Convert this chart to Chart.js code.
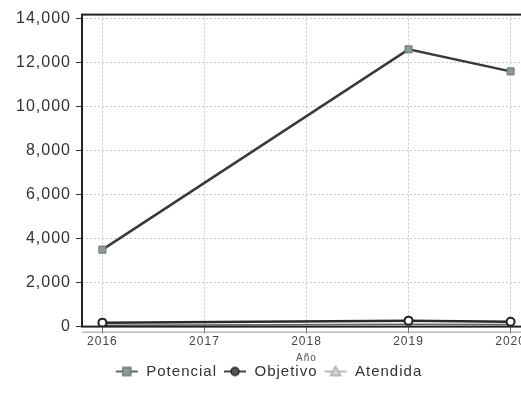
<!DOCTYPE html>
<html>
<head>
<meta charset="utf-8">
<script src="https://cdn.jsdelivr.net/npm/chart.js@4/dist/chart.umd.min.js"></script>
<style>
  html, body { margin: 0; padding: 0; background: #fff; overflow: hidden; }
  #wrap { width: 545px; height: 406px; }
</style>
</head>
<body>
<div id="wrap"><canvas id="mycanvas" width="545" height="406"></canvas></div>
<script>
var years = [2016, 2019, 2020];
var potencial = [3500, 12600, 11600];
var objetivo = [180, 270, 220];
var atendida = [60, 110, 90];
var yTicks = [0, 2000, 4000, 6000, 8000, 10000, 12000, 14000];
var xTicks = [2016, 2017, 2018, 2019, 2020];

function toPoints(vals) {
  var pts = [];
  for (var i in vals) {
    pts.push({ x: years[i], y: vals[i] });
  }
  return pts;
}

// little legend icon: short line with the marker in the middle (6px blank on the left as gap)
function legendIcon(lineColor, fill, stroke, shape) {
  var c = document.createElement('canvas');
  c.width = 30; c.height = 14;
  var g = c.getContext('2d');
  g.strokeStyle = lineColor;
  g.lineWidth = 2;
  g.beginPath(); g.moveTo(7, 7); g.lineTo(29, 7); g.stroke();
  g.fillStyle = fill;
  g.strokeStyle = stroke;
  g.lineWidth = 1.5;
  g.beginPath();
  if (shape == 'rect') {
    g.rect(14, 3, 8, 8);
  } else if (shape == 'circle') {
    g.arc(18, 7, 4, 0, Math.PI * 2);
  } else {
    g.moveTo(18, 2); g.lineTo(23, 11); g.lineTo(13, 11); g.closePath();
  }
  g.fill(); g.stroke();
  return c;
}

var icons = [
  legendIcon('#666', '#8a9a94', '#6d7a75', 'rect'),
  legendIcon('#444', '#555', '#222', 'circle'),
  legendIcon('#bbb', '#d6d6d6', '#aaa', 'tri')
];

var framePlugin = {
  id: 'frame',
  beforeUpdate: function(chart) {
    chart.ctx.letterSpacing = '1px';
  },
  afterDraw: function(chart) {
    var a = chart.chartArea;
    var g = chart.ctx;
    g.save();
    g.strokeStyle = '#222';
    g.lineWidth = 2;
    g.strokeRect(a.left, a.top, a.right - a.left, a.bottom - a.top);
    g.strokeStyle = '#999';
    g.lineWidth = 1;
    g.beginPath();
    g.moveTo(a.left, a.bottom + 5.5);
    g.lineTo(a.right, a.bottom + 5.5);
    g.stroke();
    g.restore();
  }
};

var chartdata = {
  datasets: [
    {
      label: 'Potencial',
      data: toPoints(potencial),
      borderColor: '#3a3a3a',
      backgroundColor: '#8a9a94',
      pointBorderColor: '#6d7a75',
      pointStyle: 'rect',
      pointRadius: 5,
      borderWidth: 2.5,
      pointBorderWidth: 1
    },
    {
      label: 'Objetivo',
      data: toPoints(objetivo),
      borderColor: '#2a2a2a',
      backgroundColor: '#fff',
      pointBorderColor: '#222',
      pointStyle: 'circle',
      pointRadius: 4,
      borderWidth: 2.5,
      pointBorderWidth: 2
    },
    {
      label: 'Atendida',
      data: toPoints(atendida),
      borderColor: '#666',
      backgroundColor: '#ddd',
      pointBorderColor: '#999',
      pointStyle: 'triangle',
      pointRadius: 4,
      borderWidth: 1.5,
      pointBorderWidth: 1
    }
  ]
};

var ctx = document.getElementById('mycanvas');
var lineGraph = new Chart(ctx, {
  type: 'line',
  data: chartdata,
  plugins: [framePlugin],
  options: {
    responsive: false,
    animation: false,
    layout: { padding: { top: 9, right: 14, bottom: 17, left: 0 } },
    plugins: {
      tooltip: { enabled: false },
      legend: {
        position: 'bottom',
        labels: {
          color: '#333',
          font: { family: 'Liberation Sans', size: 15 },
          usePointStyle: true,
          pointStyleWidth: 30,
          padding: 0,
          generateLabels: function(chart) {
            return chart.data.datasets.map(function(ds, i) {
              return {
                text: ds.label,
                pointStyle: icons[i],
                fontColor: '#333',
                datasetIndex: i,
                lineWidth: 0
              };
            });
          }
        }
      }
    },
    scales: {
      x: {
        type: 'linear',
        min: 2015.8,
        max: 2020.2,
        afterBuildTicks: function(scale) {
          scale.ticks = xTicks.map(function(v) { return { value: v }; });
        },
        ticks: {
          color: '#444',
          font: { family: 'Liberation Sans', size: 12 },
          padding: 1,
          maxRotation: 0,
          callback: function(v) { return String(v); }
        },
        grid: {
          color: '#c8c8c8',
          tickColor: '#777',
          tickBorderDash: [],
          tickLength: 7
        },
        border: { display: false, dash: [2, 2] },
        title: {
          display: true,
          text: 'Año',
          color: '#555',
          font: { family: 'Liberation Sans', size: 10 },
          padding: { top: 2, bottom: 0 }
        }
      },
      y: {
        min: 0,
        max: 14180,
        afterBuildTicks: function(scale) {
          scale.ticks = yTicks.map(function(v) { return { value: v }; });
        },
        afterFit: function(scale) { scale.width = 82; },
        ticks: {
          color: '#333',
          font: { family: 'Liberation Sans', size: 16 },
          padding: 5,
          callback: function(v) { return v.toLocaleString('en-US'); }
        },
        grid: {
          color: '#c8c8c8',
          tickColor: '#333',
          tickBorderDash: [],
          tickLength: 6
        },
        border: { display: false, dash: [2, 2] }
      }
    }
  }
});
</script>
</body>
</html>
